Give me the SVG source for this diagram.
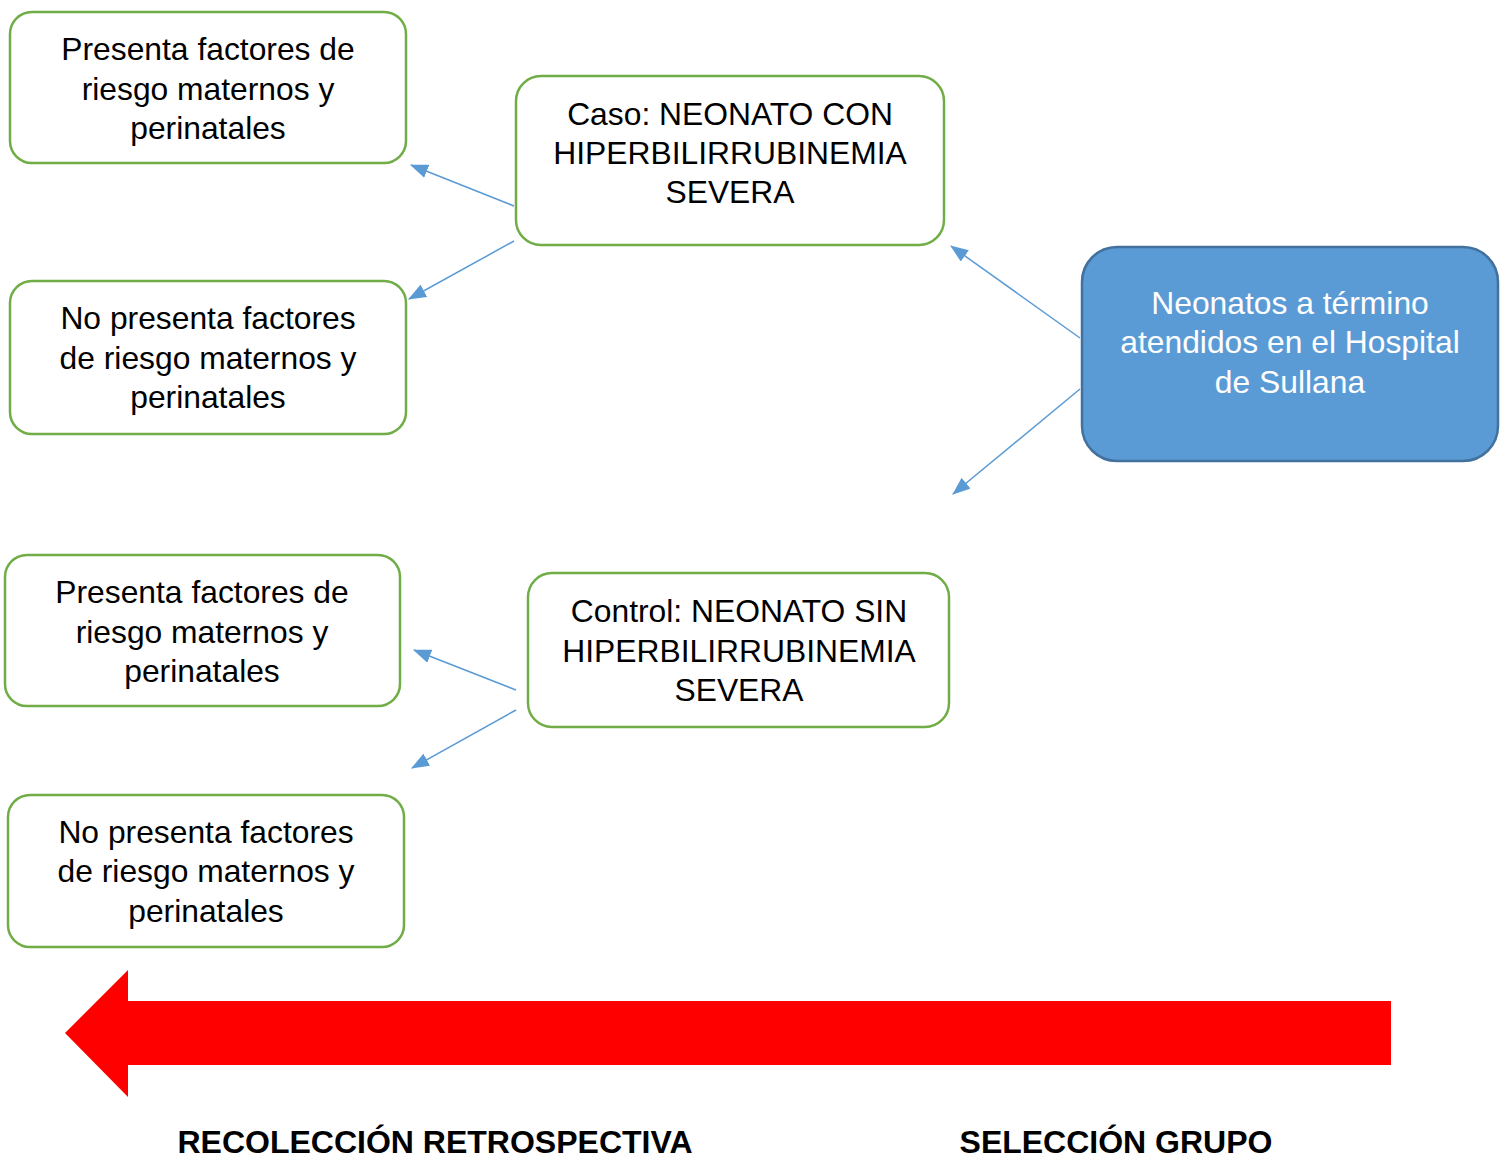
<svg xmlns="http://www.w3.org/2000/svg" width="1503" height="1157" viewBox="0 0 1503 1157">
<style>
.g{fill:#fff;stroke:#70ad47;stroke-width:2.5}
.b{fill:#5b9bd5;stroke:#41719c;stroke-width:2.5}
.t{font-family:"Liberation Sans",Arial,sans-serif;font-size:31.8px;fill:#000;text-anchor:middle}
.w{fill:#fff}
.c{stroke:#5b9bd5;stroke-width:1.5;fill:none;marker-end:url(#ah)}
.lb{font-family:"Liberation Sans",Arial,sans-serif;font-size:32px;font-weight:bold;fill:#000;text-anchor:middle}
</style>
<defs>
<marker id="ah" viewBox="0 0 18 14" refX="17" refY="7" markerWidth="18" markerHeight="14" markerUnits="userSpaceOnUse" orient="auto">
<path d="M0,0 L18,7 L0,14 Z" fill="#5b9bd5"/>
</marker>
</defs>
<rect width="1503" height="1157" fill="#fff"/>
<g id="n1"><rect class="g" x="10" y="12" width="396" height="151" rx="22"/>
<text class="t"><tspan x="208" y="60">Presenta factores de</tspan><tspan x="208" y="100">riesgo maternos y</tspan><tspan x="208" y="139">perinatales</tspan></text></g>
<g id="caso"><rect class="g" x="516" y="76" width="428" height="169" rx="25"/>
<text class="t"><tspan x="730" y="125">Caso: NEONATO CON</tspan><tspan x="730" y="164">HIPERBILIRRUBINEMIA</tspan><tspan x="730" y="203">SEVERA</tspan></text></g>
<g id="n2"><rect class="g" x="10" y="281" width="396" height="153" rx="22"/>
<text class="t"><tspan x="208" y="329">No presenta factores</tspan><tspan x="208" y="369">de riesgo maternos y</tspan><tspan x="208" y="408">perinatales</tspan></text></g>
<g id="pob"><rect class="b" x="1082" y="247" width="416" height="214" rx="35"/>
<text class="t w"><tspan x="1290" y="314">Neonatos a término</tspan><tspan x="1290" y="353">atendidos en el Hospital</tspan><tspan x="1290" y="393">de Sullana</tspan></text></g>
<g id="n3"><rect class="g" x="5" y="555" width="395" height="151" rx="22"/>
<text class="t"><tspan x="202" y="603">Presenta factores de</tspan><tspan x="202" y="643">riesgo maternos y</tspan><tspan x="202" y="682">perinatales</tspan></text></g>
<g id="control"><rect class="g" x="528" y="573" width="421" height="154" rx="24"/>
<text class="t"><tspan x="739" y="622">Control: NEONATO SIN</tspan><tspan x="739" y="662">HIPERBILIRRUBINEMIA</tspan><tspan x="739" y="701">SEVERA</tspan></text></g>
<g id="n4"><rect class="g" x="8" y="795" width="396" height="152" rx="22"/>
<text class="t"><tspan x="206" y="843">No presenta factores</tspan><tspan x="206" y="882">de riesgo maternos y</tspan><tspan x="206" y="922">perinatales</tspan></text></g>
<g id="connectors">
<line class="c" x1="514" y1="206" x2="411" y2="165"/>
<line class="c" x1="514" y1="241" x2="409" y2="299"/>
<line class="c" x1="1080" y1="338" x2="951" y2="246"/>
<line class="c" x1="1080" y1="389" x2="953" y2="494"/>
<line class="c" x1="516" y1="690" x2="414" y2="650"/>
<line class="c" x1="516" y1="710" x2="412" y2="768"/>
</g>
<g id="timeline">
<path d="M65,1033 L128,970 L128,1001 L1391,1001 L1391,1065 L128,1065 L128,1097 Z" fill="#ff0000"/>
<text class="lb" x="435" y="1153">RECOLECCIÓN RETROSPECTIVA</text>
<text class="lb" x="1116" y="1153">SELECCIÓN GRUPO</text>
</g>
</svg>
